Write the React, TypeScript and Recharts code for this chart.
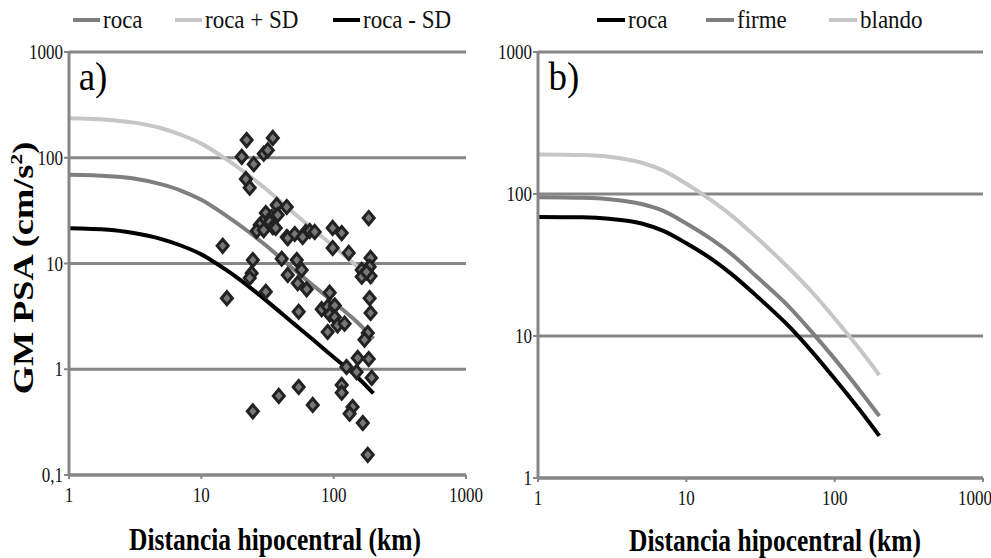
import React from 'react';
import { ComposedChart, Line, Scatter, XAxis, YAxis, CartesianGrid } from 'recharts';

// ---------- data ----------
const lineDist = [1, 2, 3, 5, 7, 10, 15, 20, 30, 50, 70, 100, 150, 200];

// panel a)
const rocaA = [69, 67, 64, 56, 49, 40, 29, 22.5, 15.2, 8.8, 6.2, 4.3, 2.8, 1.95];
const rocaPlusSD = [236, 228, 216, 190, 165, 136, 99, 77, 52, 30, 21, 14.5, 9.4, 6.5];
const rocaMinusSD = [21.5, 20.8, 19.5, 17, 14.8, 12.2, 8.9, 6.9, 4.6, 2.7, 1.9, 1.3, 0.85, 0.59];

const scatterDist = [
  22.0, 34.7, 20.2, 29.6, 31.8, 24.9, 21.7, 23.2, 37.1, 44.2, 30.7, 34.0, 37.8, 29.1, 32.9, 27.6,
  34.7, 26.2, 29.6, 36.5, 44.2, 14.5, 24.5, 40.5, 24.0, 23.2, 30.7, 15.6, 45.0, 38.5, 24.5, 184,
  45.0, 50.8, 61.5, 65.9, 71.9, 58.3, 98.3, 115, 98.3, 130, 190, 52.6, 53.5, 62.5, 57.3, 163,
  187, 163, 190, 177, 93.3, 187, 54.4, 81.2, 90.1, 102, 93.3, 102, 107, 121, 190, 90.1,
  181, 171, 152, 184, 125, 149, 194, 115, 54.4, 115, 69.5, 139, 132, 166, 181,
];
const scatterPSA = [
  147, 154, 102, 109, 118, 87, 63, 52, 35.7, 34.2, 30, 27.5, 28.8, 24.7, 24.7, 23.1,
  22.1, 20.3, 20.7, 21.7, 17.8, 14.7, 10.8, 11.1, 8.1, 7.3, 5.4, 4.7, 7.8, 0.56, 0.40, 26.9,
  17.4, 19.0, 19.9, 20.3, 19.9, 17.8, 21.7, 19.4, 14.0, 12.6, 11.3, 10.8, 6.5, 5.7, 8.7, 8.7,
  9.3, 7.5, 7.6, 8.3, 5.3, 4.7, 3.5, 3.7, 3.9, 4.0, 3.3, 3.1, 2.6, 2.7, 3.4, 2.25,
  2.2, 1.9, 1.28, 1.25, 1.05, 0.94, 0.83, 0.71, 0.68, 0.60, 0.46, 0.44, 0.38, 0.31, 0.155,
];

// panel b)
const rocaB = [69, 68.5, 67, 62, 55, 45, 34.5, 27.5, 19, 11.5, 7.8, 5.0, 2.95, 1.98];
const firmeB = [95, 94, 92, 85, 76, 62, 47.5, 38, 26, 15.8, 10.7, 6.9, 4.05, 2.73];
const blandoB = [190, 188, 183, 166, 146, 118, 89, 71, 49, 29.5, 20.5, 13.3, 7.9, 5.3];

const xTicks = [1, 10, 100, 1000];
const yTicksA = [0.1, 1, 10, 100, 1000];
const yTicksB = [1, 10, 100, 1000];

const legendA = ['roca', 'roca + SD', 'roca - SD'];
const legendB = ['roca', 'firme', 'blando'];
const xTitle = 'Distancia hipocentral (km)';

// ---------- style ----------
const SERIF = '"Liberation Serif", "Times New Roman", serif';
const GRID = '#868686';
const MID = '#7f7f7f';
const LIGHT = '#c6c6c6';
const DARK = '#000000';
const STRETCH = 1.25;

const pts = (xs: number[], ys: number[]) => xs.map((x, i) => ({ x, y: ys[i] }));
const fmt = (v: number) => String(v).replace('.', ',');

const YTick = (props: any) => {
  const { x, y, payload } = props;
  return (
    <text
      transform={`translate(${x},${y}) scale(1,${STRETCH})`}
      textAnchor="end"
      dominantBaseline="central"
      fontFamily={SERIF}
      fontSize={17}
      fill="#111"
    >
      {fmt(payload.value)}
    </text>
  );
};

const XTick = (props: any) => {
  const { x, y, payload } = props;
  return (
    <text
      transform={`translate(${x},${y + 14}) scale(1,${STRETCH})`}
      textAnchor="middle"
      dominantBaseline="central"
      fontFamily={SERIF}
      fontSize={17}
      fill="#111"
    >
      {fmt(payload.value)}
    </text>
  );
};

const Diamond = (props: any) => {
  const { cx, cy } = props;
  if (cx == null || cy == null) return null;
  const w = 5.5;
  const h = 6.5;
  return (
    <path
      d={`M${cx},${cy - h} L${cx + w},${cy} L${cx},${cy + h} L${cx - w},${cy} Z`}
      fill="#777"
      stroke="#222"
      strokeWidth={3}
    />
  );
};

const LegendItem = ({ left, lineW, color, label }: any) => (
  <div style={{ position: 'absolute', left, top: 0, height: 40, whiteSpace: 'nowrap' }}>
    <div style={{ position: 'absolute', left: 0, top: 18, width: lineW, height: 4, background: color }} />
    <div
      style={{
        position: 'absolute',
        left: lineW + 3,
        top: 3,
        fontFamily: SERIF,
        fontSize: 23,
        lineHeight: '34px',
        color: '#111',
        transform: 'scaleY(1.12)',
        transformOrigin: 'left center',
      }}
    >
      {label}
    </div>
  </div>
);

const TextAbs = ({ cx, cy, size, bold, children, rotate, stretch }: any) => (
  <div
    style={{
      position: 'absolute',
      left: cx,
      top: cy,
      fontFamily: SERIF,
      fontSize: size,
      fontWeight: bold ? 'bold' : 'normal',
      whiteSpace: 'nowrap',
      lineHeight: 1,
      color: '#000',
      transform: `translate(-50%,-50%) scale(1,${stretch ?? 1}) ${rotate ? 'rotate(-90deg)' : ''}`,
    }}
  >
    {children}
  </div>
);

export default function App() {
  const aRoca = pts(lineDist, rocaA);
  const aPlus = pts(lineDist, rocaPlusSD);
  const aMinus = pts(lineDist, rocaMinusSD);
  const aScatter = pts(scatterDist, scatterPSA);
  const bRoca = pts(lineDist, rocaB);
  const bFirme = pts(lineDist, firmeB);
  const bBlando = pts(lineDist, blandoB);

  return (
    <div style={{ position: 'absolute', left: 0, top: 0, width: 991, height: 558, background: '#fff', overflow: 'hidden' }}>
      {/* panel a */}
      <div style={{ position: 'absolute', left: 0, top: 0 }}>
        <ComposedChart width={500} height={558} margin={{ top: 52, right: 34, bottom: 53, left: 29 }}>
          <CartesianGrid horizontal vertical={false} stroke={GRID} strokeWidth={3} />
          <XAxis
            dataKey="x"
            type="number"
            scale="log"
            domain={[1, 1000]}
            ticks={xTicks}
            allowDataOverflow
            height={30}
            axisLine={{ stroke: GRID, strokeWidth: 3 }}
            tickLine={{ stroke: GRID, strokeWidth: 2 }}
            tickSize={4}
            tick={<XTick />}
          />
          <YAxis
            dataKey="y"
            type="number"
            scale="log"
            domain={[0.1, 1000]}
            ticks={yTicksA}
            allowDataOverflow
            width={40}
            axisLine={{ stroke: GRID, strokeWidth: 3 }}
            tickLine={{ stroke: GRID, strokeWidth: 2 }}
            tickSize={5}
            tickMargin={1}
            tick={<YTick />}
          />
          <Line data={aPlus} dataKey="y" type="monotone" stroke={LIGHT} strokeWidth={4} dot={false} isAnimationActive={false} />
          <Line data={aRoca} dataKey="y" type="monotone" stroke={MID} strokeWidth={4} dot={false} isAnimationActive={false} />
          <Line data={aMinus} dataKey="y" type="monotone" stroke={DARK} strokeWidth={4} dot={false} isAnimationActive={false} />
          <Scatter data={aScatter} dataKey="y" shape={<Diamond />} isAnimationActive={false} />
        </ComposedChart>
      </div>

      {/* panel b */}
      <div style={{ position: 'absolute', left: 491, top: 0 }}>
        <ComposedChart width={500} height={558} margin={{ top: 52, right: 8, bottom: 50, left: 7 }}>
          <CartesianGrid horizontal vertical={false} stroke={GRID} strokeWidth={3} />
          <XAxis
            dataKey="x"
            type="number"
            scale="log"
            domain={[1, 1000]}
            ticks={xTicks}
            allowDataOverflow
            height={30}
            axisLine={{ stroke: GRID, strokeWidth: 3 }}
            tickLine={{ stroke: GRID, strokeWidth: 2 }}
            tickSize={4}
            tick={<XTick />}
          />
          <YAxis
            dataKey="y"
            type="number"
            scale="log"
            domain={[1, 1000]}
            ticks={yTicksB}
            allowDataOverflow
            width={40}
            axisLine={{ stroke: GRID, strokeWidth: 3 }}
            tickLine={{ stroke: GRID, strokeWidth: 2 }}
            tickSize={5}
            tickMargin={1}
            tick={<YTick />}
          />
          <Line data={bBlando} dataKey="y" type="monotone" stroke={LIGHT} strokeWidth={4} dot={false} isAnimationActive={false} />
          <Line data={bFirme} dataKey="y" type="monotone" stroke={MID} strokeWidth={4} dot={false} isAnimationActive={false} />
          <Line data={bRoca} dataKey="y" type="monotone" stroke={DARK} strokeWidth={4} dot={false} isAnimationActive={false} />
        </ComposedChart>
      </div>

      {/* legends */}
      <LegendItem left={73} lineW={27} color={MID} label={legendA[0]} />
      <LegendItem left={175} lineW={27} color={LIGHT} label={legendA[1]} />
      <LegendItem left={333} lineW={27} color={DARK} label={legendA[2]} />
      <LegendItem left={597} lineW={28} color={DARK} label={legendB[0]} />
      <LegendItem left={706} lineW={28} color={MID} label={legendB[1]} />
      <LegendItem left={829} lineW={28} color={LIGHT} label={legendB[2]} />

      {/* panel tags */}
      <TextAbs cx={93} cy={76} size={37} stretch={1.1}>a)</TextAbs>
      <TextAbs cx={564} cy={76} size={37} stretch={1.1}>b)</TextAbs>

      {/* axis titles */}
      <TextAbs cx={23} cy={268} size={29} bold stretch={1.25} rotate>
        GM PSA (cm/s<sup style={{ fontSize: '0.6em' }}>2</sup>)
      </TextAbs>
      <TextAbs cx={275} cy={540} size={25.5} bold stretch={1.2}>{xTitle}</TextAbs>
      <TextAbs cx={775} cy={541} size={25.5} bold stretch={1.2}>{xTitle}</TextAbs>
    </div>
  );
}
